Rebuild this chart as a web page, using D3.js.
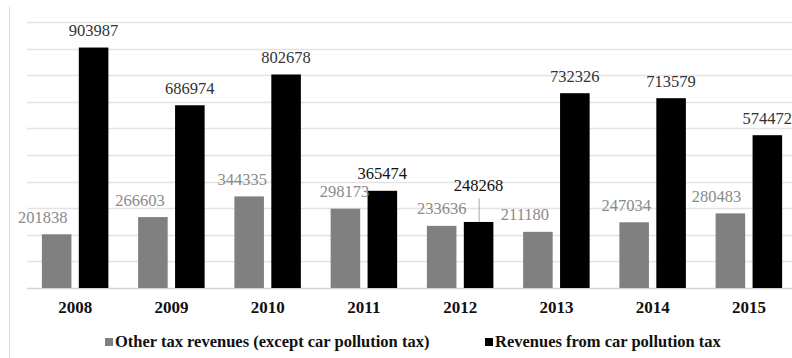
<!DOCTYPE html>
<html>
<head>
<meta charset="utf-8">
<script src="https://cdn.jsdelivr.net/npm/d3@7"></script>
<style>
  html, body { margin: 0; padding: 0; background: #fff; }
  svg { display: block; }
  text { font-family: "Liberation Serif", "Times New Roman", serif; }
</style>
</head>
<body>
<svg id="chart" width="792" height="358"></svg>
<script>
// Tax revenues per year
const years = ["2008", "2009", "2010", "2011", "2012", "2013", "2014", "2015"];
const otherTax = [201838, 266603, 344335, 298173, 233636, 211180, 247034, 280483];
const carPollutionTax = [903987, 686974, 802678, 365474, 248268, 732326, 713579, 574472];
const seriesNames = ["Other tax revenues (except car pollution tax)", "Revenues from car pollution tax"];
const yTicks = [0, 100000, 200000, 300000, 400000, 500000, 600000, 700000, 800000, 900000, 1000000];

// hand-placed label nudges (px) for the gray series, and the lifted 2012 label
const otherLabelDx = [-14, -13, -7, -1, 0, -13, -8, -14];
const carLabelDy = [0, 0, 0, 0, -19, 0, 0, 0];

const svg = d3.select("#chart");
const W = 792, H = 358;
const plot = { left: 27, right: 797, top: 22, bottom: 288 };

const x0 = d3.scaleBand()
  .domain(years)
  .range([plot.left, plot.right])
  .paddingInner(0.309)
  .paddingOuter(0.1545);

const x1 = d3.scaleBand()
  .domain([0, 1])
  .range([0, x0.bandwidth()])
  .paddingInner(0.2);

const y = d3.scaleLinear()
  .domain([0, 1000000])
  .range([plot.bottom, plot.top]);

// chart area left border
svg.append("line")
  .attr("x1", 9.5).attr("x2", 9.5)
  .attr("y1", 7).attr("y2", H)
  .attr("stroke", "#d9d9d9").attr("stroke-width", 1);

// horizontal gridlines
svg.append("g")
  .selectAll("line")
  .data(yTicks)
  .join("line")
  .attr("x1", plot.left).attr("x2", W)
  .attr("y1", d => Math.round(y(d)) + 0.5)
  .attr("y2", d => Math.round(y(d)) + 0.5)
  .attr("stroke", d => d === 0 ? "#d4d4d4" : "#e3e3e3")
  .attr("stroke-width", 1.5);

const series = [
  { values: otherTax, fill: "#808080", label: "#8a8a8a" },
  { values: carPollutionTax, fill: "#000000", label: "#333333" }
];

const groups = svg.append("g")
  .selectAll("g")
  .data(years)
  .join("g")
  .attr("transform", d => `translate(${x0(d)},0)`);

series.forEach((s, si) => {
  groups.append("rect")
    .attr("x", x1(si))
    .attr("width", x1.bandwidth())
    .attr("y", (d, i) => y(s.values[i]))
    .attr("height", (d, i) => y(0) - y(s.values[i]))
    .attr("fill", s.fill);
});

// value labels
const labelSize = 16.5;
groups.append("text")
  .attr("x", (d, i) => x1(0) + x1.bandwidth() / 2 + otherLabelDx[i])
  .attr("y", (d, i) => y(otherTax[i]) - 11.5)
  .attr("text-anchor", "middle")
  .attr("font-size", labelSize)
  .attr("fill", series[0].label)
  .text((d, i) => otherTax[i]);

groups.append("text")
  .attr("x", x1(1) + x1.bandwidth() / 2)
  .attr("y", (d, i) => y(carPollutionTax[i]) - 11.5 + carLabelDy[i])
  .attr("text-anchor", "middle")
  .attr("font-size", labelSize)
  .attr("fill", (d, i) => carLabelDy[i] !== 0 || i === 3 ? "#111111" : series[1].label)
  .text((d, i) => carPollutionTax[i]);

// leader line for the lifted label
groups.filter((d, i) => carLabelDy[i] !== 0)
  .append("line")
  .attr("x1", x1(1) + x1.bandwidth() / 2 + 0.5)
  .attr("x2", x1(1) + x1.bandwidth() / 2 + 0.5)
  .attr("y1", d => y(carPollutionTax[years.indexOf(d)]) - 11.5 + carLabelDy[years.indexOf(d)] + 7)
  .attr("y2", d => y(carPollutionTax[years.indexOf(d)]))
  .attr("stroke", "#a6a6a6")
  .attr("stroke-width", 1);

// category axis labels
svg.append("g")
  .selectAll("text")
  .data(years)
  .join("text")
  .attr("x", d => x0(d) + x0.bandwidth() / 2)
  .attr("y", 313)
  .attr("text-anchor", "middle")
  .attr("font-size", 17)
  .attr("font-weight", "bold")
  .attr("fill", "#111")
  .text(d => d);

// legend
const legendX = [105, 485];
const legend = svg.append("g")
  .selectAll("g")
  .data(seriesNames)
  .join("g")
  .attr("transform", (d, i) => `translate(${legendX[i]},0)`);

legend.append("rect")
  .attr("x", 0).attr("y", 338)
  .attr("width", 8).attr("height", 8)
  .attr("fill", (d, i) => series[i].fill);

legend.append("text")
  .attr("x", 10)
  .attr("y", 347)
  .attr("font-size", 16.5)
  .attr("font-weight", "bold")
  .attr("fill", "#111")
  .text(d => d);
</script>
</body>
</html>
